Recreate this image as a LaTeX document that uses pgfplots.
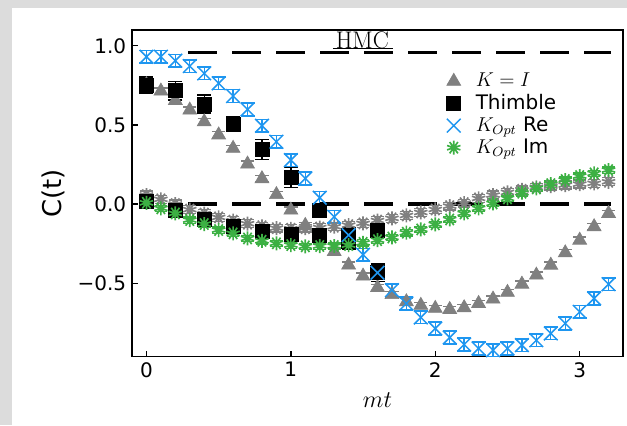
\documentclass[border=0pt]{standalone}
\usepackage{fontspec}
\setmainfont{DejaVu Sans}
\newfontfamily\lmr{Latin Modern Roman}
\usepackage{pgfplots}
\usepackage{pgfplotstable}
\pgfplotsset{compat=1.18}
\usetikzlibrary{plotmarks}
\definecolor{kigray}{HTML}{808080}
\definecolor{optblue}{HTML}{1E96F0}
\definecolor{optgreen}{HTML}{3CB043}
\definecolor{bggray}{HTML}{DCDCDC}

% K = I, real part (triangles)
\pgfplotstableread{
x y
0.0 0.755
0.1 0.714
0.2 0.655
0.3 0.594
0.4 0.520
0.5 0.437
0.6 0.352
0.7 0.253
0.8 0.160
0.9 0.060
1.0 -0.038
1.1 -0.135
1.2 -0.220
1.3 -0.300
1.4 -0.385
1.5 -0.455
1.6 -0.527
1.7 -0.572
1.8 -0.617
1.9 -0.640
2.0 -0.659
2.1 -0.666
2.2 -0.655
2.3 -0.628
2.4 -0.600
2.5 -0.558
2.6 -0.506
2.7 -0.449
2.8 -0.386
2.9 -0.308
3.0 -0.228
3.1 -0.143
3.2 -0.059
}\kiRe

% K = I, imaginary part (gray stars)
\pgfplotstableread{
x y
0.0 0.057
0.1 0.030
0.2 0.000
0.3 -0.035
0.4 -0.060
0.5 -0.084
0.6 -0.105
0.7 -0.124
0.8 -0.140
0.9 -0.152
1.0 -0.156
1.1 -0.152
1.2 -0.148
1.3 -0.143
1.4 -0.133
1.5 -0.122
1.6 -0.104
1.7 -0.090
1.8 -0.072
1.9 -0.053
2.0 -0.034
2.1 -0.013
2.2 0.006
2.3 0.036
2.4 0.057
2.5 0.074
2.6 0.090
2.7 0.106
2.8 0.114
2.9 0.120
3.0 0.126
3.1 0.131
3.2 0.141
}\kiIm

% Thimble
\pgfplotstableread{
x y e
0.0 0.752 0.052
0.2 0.716 0.058
0.4 0.632 0.058
0.6 0.506 0.045
0.8 0.345 0.063
1.0 0.169 0.063
1.2 -0.038 0.035
1.4 -0.200 0.050
1.6 -0.434 0.055
}\thRe
\pgfplotstableread{
x y e
0.0 0.015 0.03
0.2 -0.038 0.03
0.4 -0.097 0.03
0.6 -0.143 0.03
0.8 -0.175 0.03
1.0 -0.192 0.03
1.2 -0.196 0.03
1.4 -0.235 0.05
1.6 -0.164 0.03
}\thIm

% K_Opt
\pgfplotstableread{
x y
0.0 0.931
0.1 0.931
0.2 0.906
0.3 0.872
0.4 0.826
0.5 0.763
0.6 0.683
0.7 0.598
0.8 0.495
0.9 0.394
1.0 0.278
1.1 0.162
1.2 0.040
1.3 -0.080
1.4 -0.196
1.5 -0.320
1.6 -0.434
1.7 -0.544
1.8 -0.628
1.9 -0.716
2.0 -0.786
2.1 -0.843
2.2 -0.887
2.3 -0.912
2.4 -0.923
2.5 -0.912
2.6 -0.891
2.7 -0.860
2.8 -0.817
2.9 -0.754
3.0 -0.681
3.1 -0.596
3.2 -0.506
}\optRe
\pgfplotstableread{
x y
0.0 0.008
0.1 -0.027
0.2 -0.059
0.3 -0.101
0.4 -0.126
0.5 -0.164
0.6 -0.185
0.7 -0.217
0.8 -0.232
0.9 -0.248
1.0 -0.259
1.1 -0.267
1.2 -0.265
1.3 -0.265
1.4 -0.259
1.5 -0.245
1.6 -0.228
1.7 -0.211
1.8 -0.181
1.9 -0.160
2.0 -0.128
2.1 -0.097
2.2 -0.059
2.3 -0.027
2.4 0.004
2.5 0.036
2.6 0.072
2.7 0.099
2.8 0.126
2.9 0.152
3.0 0.177
3.1 0.194
3.2 0.215
}\optIm

\begin{document}
\begin{tikzpicture}
\fill[bggray] (0,0) rectangle (376.2pt,255pt);
\fill[white] (7.2pt,0) rectangle (376.2pt,250pt);
\begin{axis}[
    at={(79.2pt,41.1pt)}, anchor=south west,
    scale only axis,
    width=294.6pt, height=195.9pt,
    xmin=-0.1, xmax=3.3,
    ymin=-0.963, ymax=1.1,
    axis line style={line width=0.9pt},
    tick pos=left, tick align=inside,
    major tick length=3.4pt,
    tick style={line width=0.8pt, black},
    xtick={0,1,2,3}, xticklabels={0,1,2,3},
    ytick={-0.5,0,0.5,1}, yticklabels={−0.5,0.0,0.5,1.0},
    ticklabel style={font=\fontsize{12}{12}\selectfont},
    xlabel={$mt$}, ylabel={C(t)},
    label style={font=\fontsize{15.5}{16}\selectfont},
    xlabel style={at={(axis description cs:0.5,-0.133)}, anchor=center},
    ylabel style={at={(axis description cs:-0.161,0.5)}, anchor=center},
    legend style={draw=none, fill=none, at={(0.637,0.884)}, anchor=north west,
        font=\fontsize{12}{13}\selectfont, row sep=-1pt, column sep=7pt, inner sep=1pt},
    legend cell align=left,
    error bars/error bar style={line width=0.8pt},
    error bars/error mark=|,
]
% reference lines
\addplot[black, line width=2.1pt, dash pattern=on 17.4pt off 9pt, forget plot]
    coordinates {(0.288,0.957) (3.215,0.957)};
\addplot[black, line width=2.1pt, dash pattern=on 17.4pt off 9pt, forget plot]
    coordinates {(0.288,0) (3.215,0)};

\addplot[only marks, kigray, mark=triangle*, mark size=4.8pt,
    error bars/.cd, y dir=both, y fixed=0.02,
    error mark options={kigray, mark size=4pt, line width=0.8pt}]
    table[x=x, y=y] {\kiRe};
\addlegendentry{$K=I$}
\addplot[only marks, kigray, mark=10-pointed star, mark size=4.2pt, forget plot,
    mark options={fill=kigray, line width=1pt},
    error bars/.cd, y dir=both, y fixed=0.025,
    error mark options={kigray, mark size=3.8pt, line width=0.8pt}]
    table[x=x, y=y] {\kiIm};

\addplot[only marks, black, mark=square*, mark size=4.2pt,
    error bars/.cd, y dir=both, y explicit,
    error mark options={black, mark size=4.2pt, line width=0.9pt}]
    table[x=x, y=y, y error=e] {\thRe};
\addlegendentry{Thimble}
\addplot[only marks, black, mark=square*, mark size=4.2pt, forget plot,
    error bars/.cd, y dir=both, y explicit,
    error mark options={black, mark size=4.2pt, line width=0.9pt}]
    table[x=x, y=y, y error=e] {\thIm};

\addplot[only marks, optblue, mark=x, mark size=5.8pt, mark options={line width=0.9pt},
    error bars/.cd, y dir=both, y fixed=0.04,
    error mark options={optblue, mark size=4.2pt, line width=0.9pt}]
    table[x=x, y=y] {\optRe};
\addlegendentry{$K_{Opt}$ Re}
\addplot[only marks, optgreen, mark=10-pointed star, mark size=4.2pt,
    mark options={fill=optgreen, line width=1pt},
    error bars/.cd, y dir=both, y fixed=0.02,
    error mark options={optgreen, mark size=3.8pt, line width=0.8pt}]
    table[x=x, y=y] {\optIm};
\addlegendentry{$K_{Opt}$ Im}

\node[font=\lmr\fontsize{14.4}{14.4}\selectfont] at (axis cs:1.495,1.037) {HMC};
\draw[line width=0.6pt] (axis cs:1.291,0.984) -- (axis cs:1.707,0.984);
\end{axis}
\end{tikzpicture}
\end{document}
